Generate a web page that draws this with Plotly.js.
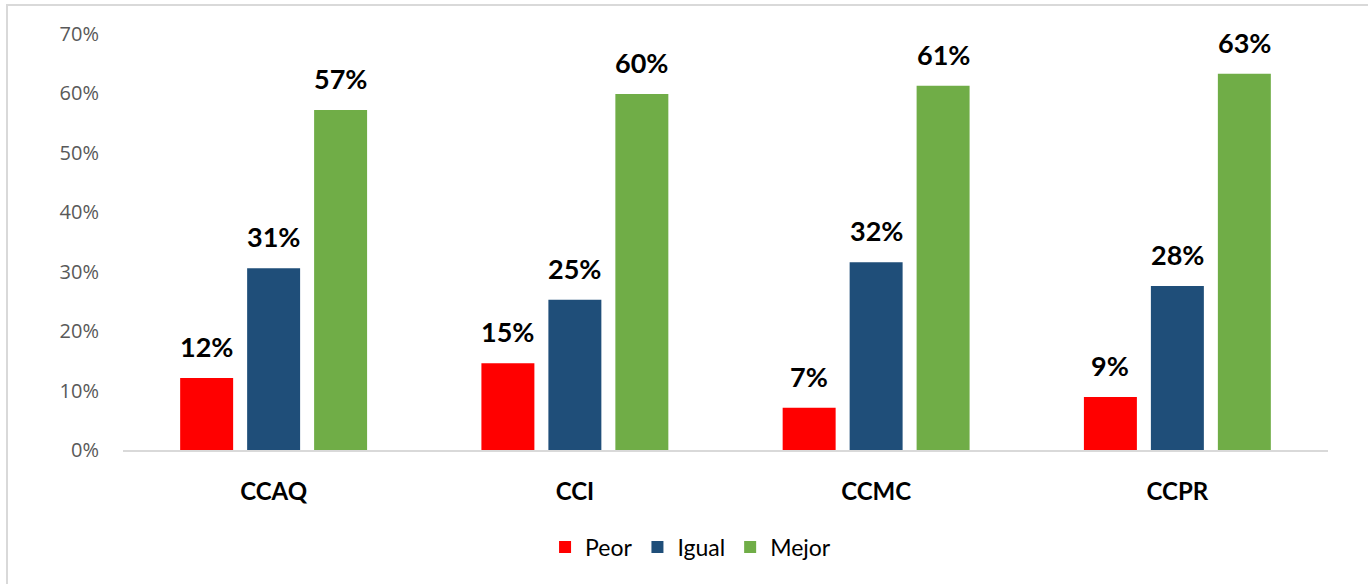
<!DOCTYPE html>
<html>
<head>
<meta charset="utf-8">
<script src="https://cdn.plot.ly/plotly-3.0.1.min.js"></script>
<style>
  html, body { margin: 0; padding: 0; background: #ffffff; }
  #wrap { position: relative; width: 1368px; height: 584px; overflow: hidden; }
  #chart { position: absolute; left: 0; top: 0; width: 1368px; height: 584px; }
  #frame { position: absolute; left: 6px; top: 4px; width: 1400px; height: 700px;
           border-left: 2px solid #d9d9d9; border-top: 2px solid #d9d9d9; pointer-events: none; }
</style>
</head>
<body>
<div id="wrap">
  <div id="chart"></div>
  <div id="frame"></div>
</div>
<script>
// Data
const categories = ["CCAQ", "CCI", "CCMC", "CCPR"];
const seriesNames = ["Peor", "Igual", "Mejor"];
const peor  = [0.121, 0.146, 0.071, 0.089];
const igual = [0.306, 0.253, 0.316, 0.276];
const mejor = [0.572, 0.599, 0.613, 0.633];
const yTickVals = [0, 0.1, 0.2, 0.3, 0.4, 0.5, 0.6, 0.7];
const yTickText = ["0%", "10%", "20%", "30%", "40%", "50%", "60%", "70%"];

const seriesValues = [peor, igual, mejor];
const colors = ["#ff0000", "#1f4e79", "#70ad47"];
const offsetsPx = [-67, 0, 67];

const traces = seriesValues.map((vals, i) => ({
  type: "bar",
  name: seriesNames[i],
  x: categories,
  y: vals,
  marker: { color: colors[i] },
  hoverinfo: "none"
}));

const annotations = [];
seriesValues.forEach((vals, i) => {
  vals.forEach((v, j) => {
    annotations.push({
      x: categories[j], y: v, xref: "x", yref: "y",
      text: Math.round(v * 100) + "%",
      showarrow: false, xanchor: "center", yanchor: "bottom",
      xshift: offsetsPx[i], yshift: 13,
      font: { family: "Lato, 'Open Sans', sans-serif", size: 27, color: "#000000", weight: "bold" }
    });
  });
});

const layout = {
  width: 1368, height: 584,
  margin: { l: 123, r: 40, t: 34, b: 134, pad: 0 },
  paper_bgcolor: "#ffffff",
  plot_bgcolor: "#ffffff",
  barmode: "group",
  bargap: 0.333,
  bargroupgap: 0.209,
  showlegend: true,
  legend: {
    orientation: "h", x: 0.471, xanchor: "center", y: -0.233, yanchor: "middle",
    font: { family: "Lato, 'Open Sans', sans-serif", size: 23, color: "#000000" },
    itemwidth: 30, traceorder: "normal"
  },
  xaxis: {
    type: "category",
    showline: true, linecolor: "#d9d9d9", linewidth: 2,
    ticks: "", showgrid: false, zeroline: false,
    tickfont: { family: "Lato, 'Open Sans', sans-serif", size: 24, color: "#000000", weight: "bold" },
    ticklabelstandoff: 19
  },
  yaxis: {
    range: [0, 0.7],
    tickvals: yTickVals, ticktext: yTickText,
    showline: false, showgrid: false, zeroline: false, ticks: "",
    tickfont: { family: "'Open Sans', sans-serif", size: 20, color: "#595959" },
    ticklabelstandoff: 23
  },
  annotations: annotations
};

Plotly.newPlot("chart", traces, layout, { displayModeBar: false, staticPlot: true });
</script>
</body>
</html>
